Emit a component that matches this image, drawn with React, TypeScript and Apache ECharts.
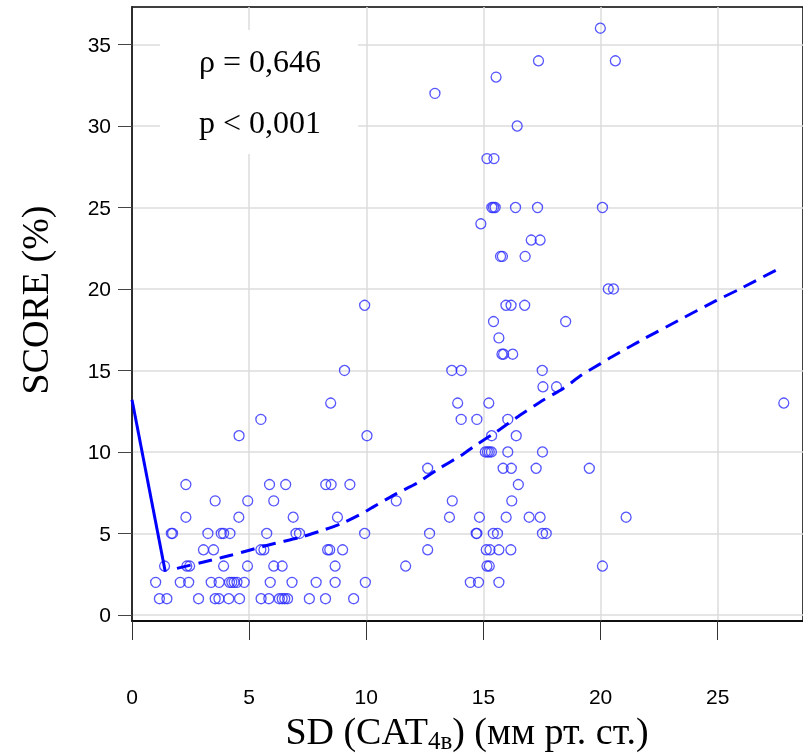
import React, { useEffect, useRef } from "react";
import * as echarts from "echarts";

// SCORE (%) levels and the SD (CAT4в) values of the points at each level
const scoreLevels = [1, 2, 3, 4, 5, 6, 7, 8, 9, 10, 11, 12, 13, 14, 15, 16, 17, 18, 19, 20, 22, 23, 24, 25, 28, 30, 32, 33, 34, 36];
const sdByScore: number[][] = [
  [1.17, 1.49, 2.84, 3.55, 3.71, 4.13, 4.59, 5.51, 5.84, 6.29, 6.41, 6.52, 6.64, 7.57, 8.26, 9.46],
  [1.01, 2.06, 2.42, 3.38, 3.72, 4.16, 4.26, 4.36, 4.48, 4.79, 5.9, 6.83, 7.86, 8.67, 9.96, 14.44, 14.79, 15.66],
  [1.39, 2.34, 2.46, 3.91, 4.93, 6.05, 6.41, 8.67, 11.68, 15.15, 15.25, 20.08],
  [3.05, 3.48, 5.5, 5.63, 8.35, 8.44, 8.99, 12.62, 15.12, 15.28, 15.66, 16.17],
  [1.68, 1.73, 3.24, 3.81, 3.91, 4.18, 5.75, 7.0, 7.15, 9.93, 12.7, 14.69, 14.72, 15.42, 15.6, 17.52, 17.68],
  [2.3, 4.56, 6.88, 8.77, 13.55, 14.83, 15.97, 16.95, 17.42, 21.09],
  [3.55, 4.94, 6.05, 11.28, 13.67, 16.21],
  [2.3, 5.87, 6.56, 8.27, 8.5, 9.3, 16.49],
  [12.62, 15.84, 16.19, 17.25, 19.52],
  [15.08, 15.17, 15.25, 15.34, 16.04, 17.52],
  [4.57, 10.03, 15.35, 16.4],
  [5.5, 14.05, 14.72, 16.04],
  [8.48, 13.9, 15.23, 27.82],
  [17.54, 18.12],
  [9.07, 13.65, 14.05, 17.51],
  [15.79, 15.86, 16.25],
  [15.66],
  [15.43, 18.51],
  [9.93, 15.96, 16.18, 16.76],
  [20.33, 20.55],
  [15.73, 15.81, 16.78],
  [17.04, 17.42],
  [14.89],
  [15.36, 15.43, 15.5, 16.37, 17.31, 20.08],
  [15.15, 15.45],
  [16.44],
  [12.93],
  [15.54],
  [17.35, 20.63],
  [19.99],
];

// solid segment
const lineSD = [0, 1.42];
const lineScore = [13.2, 2.65];

// dashed smooth curve
const curveSD = [1.92, 3.41, 4.26, 5.05, 6.12, 7.12, 7.97, 8.96, 9.89, 10.32, 11.31, 12.16, 13.01, 14.15, 14.58, 15.57, 16.57, 17.56, 18.41, 19.19, 20.0, 20.47, 21.3, 21.9, 23.3, 24.95, 25.85, 27.72];
const curveScore = [2.86, 3.37, 3.68, 3.99, 4.4, 4.74, 5.11, 5.62, 6.28, 6.65, 7.46, 8.08, 8.9, 9.88, 10.33, 11.25, 12.27, 13.19, 13.9, 14.72, 15.42, 15.83, 16.5, 16.98, 18.05, 19.3, 19.93, 21.33];

const xTicks = [0, 5, 10, 15, 20, 25];
const yTicks = [0, 5, 10, 15, 20, 25, 30, 35];

const statLines = ["ρ = 0,646", "p < 0,001"];
const yTitle = "SCORE (%)";

const SERIF = '"Liberation Serif", "Times New Roman", serif';
const SANS = '"Liberation Sans Narrow", "Arial Narrow", "Liberation Sans", Arial, sans-serif';

export default function App() {
  const ref = useRef<HTMLDivElement>(null);
  useEffect(() => {
    if (!ref.current) return;
    const chart = echarts.init(ref.current, undefined, { renderer: "svg" });
    const points: number[][] = [];
    scoreLevels.forEach((s, i) => sdByScore[i].forEach((x) => points.push([x, s])));
    const lineData = lineSD.map((x, i) => [x, lineScore[i]]);
    const curveData = curveSD.map((x, i) => [x, curveScore[i]]);

    chart.setOption({
      animation: false,
      grid: {
        left: 132,
        top: 7,
        right: -2,
        bottom: 132,
        show: true,
        borderColor: "#000",
        borderWidth: 1.5,
        backgroundColor: "transparent",
      },
      xAxis: {
        type: "value",
        min: 0,
        max: 28.64,
        axisLine: { show: true, onZero: false, lineStyle: { color: "#000", width: 1.5 } },
        axisTick: { show: true, length: 19, lineStyle: { color: "#333", width: 1 }, customValues: xTicks },
        axisLabel: { customValues: xTicks, margin: 65, fontSize: 21, color: "#000", fontFamily: SANS },
        splitLine: { show: true, lineStyle: { color: "#dcdcdc", width: 1.5 } },
      },
      yAxis: {
        type: "value",
        min: -0.37,
        max: 37.3,
        axisLine: { show: true, onZero: false, lineStyle: { color: "#000", width: 1.5 } },
        axisTick: { show: true, length: 14, lineStyle: { color: "#444", width: 1 }, customValues: yTicks },
        axisLabel: { customValues: yTicks, margin: 21, fontSize: 21, color: "#000", fontFamily: SANS },
        splitLine: { show: true, lineStyle: { color: "#dcdcdc", width: 1.5 } },
      },
      series: [
        {
          type: "scatter",
          data: points,
          symbol: "circle",
          symbolSize: 10,
          itemStyle: { color: "rgba(0,0,0,0)", borderColor: "#2a2aff", borderWidth: 1.3 },
          silent: true,
          z: 3,
        },
        {
          type: "line",
          data: lineData,
          showSymbol: false,
          lineStyle: { color: "#0000ff", width: 3 },
          silent: true,
          z: 4,
        },
        {
          type: "line",
          data: curveData,
          showSymbol: false,
          smooth: 0.2,
          lineStyle: { color: "#0000ff", width: 3, type: [14, 8] },
          silent: true,
          z: 4,
        },
      ],
      graphic: [
        {
          type: "rect",
          z: 1,
          shape: { x: 160, y: 30, width: 198, height: 124 },
          style: { fill: "#fff" },
        },
        {
          type: "text",
          z: 2,
          x: 199,
          y: 61,
          style: { text: statLines[0], font: `32px ${SERIF}`, fill: "#000", align: "left", verticalAlign: "middle" },
        },
        {
          type: "text",
          z: 2,
          x: 199,
          y: 122,
          style: { text: statLines[1], font: `32px ${SERIF}`, fill: "#000", align: "left", verticalAlign: "middle" },
        },
        {
          type: "text",
          z: 2,
          x: 35,
          y: 300,
          rotation: Math.PI / 2,
          style: { text: yTitle, font: `38px ${SERIF}`, fill: "#000", align: "center", verticalAlign: "middle" },
        },
        {
          type: "text",
          z: 2,
          x: 467,
          y: 731,
          style: {
            text: "{a|SD (CAT}{b|4в}{a|) (мм рт. ст.)}",
            align: "center",
            verticalAlign: "middle",
            rich: {
              a: { fontSize: 38, fontFamily: SERIF, color: "#000", lineHeight: 44 },
              b: { fontSize: 25, fontFamily: SERIF, color: "#000", lineHeight: 22, verticalAlign: "bottom" },
            },
          },
        },
      ],
    });
    return () => chart.dispose();
  }, []);
  return <div ref={ref} style={{ position: "fixed", left: 0, top: 0, width: 803, height: 753 }} />;
}
